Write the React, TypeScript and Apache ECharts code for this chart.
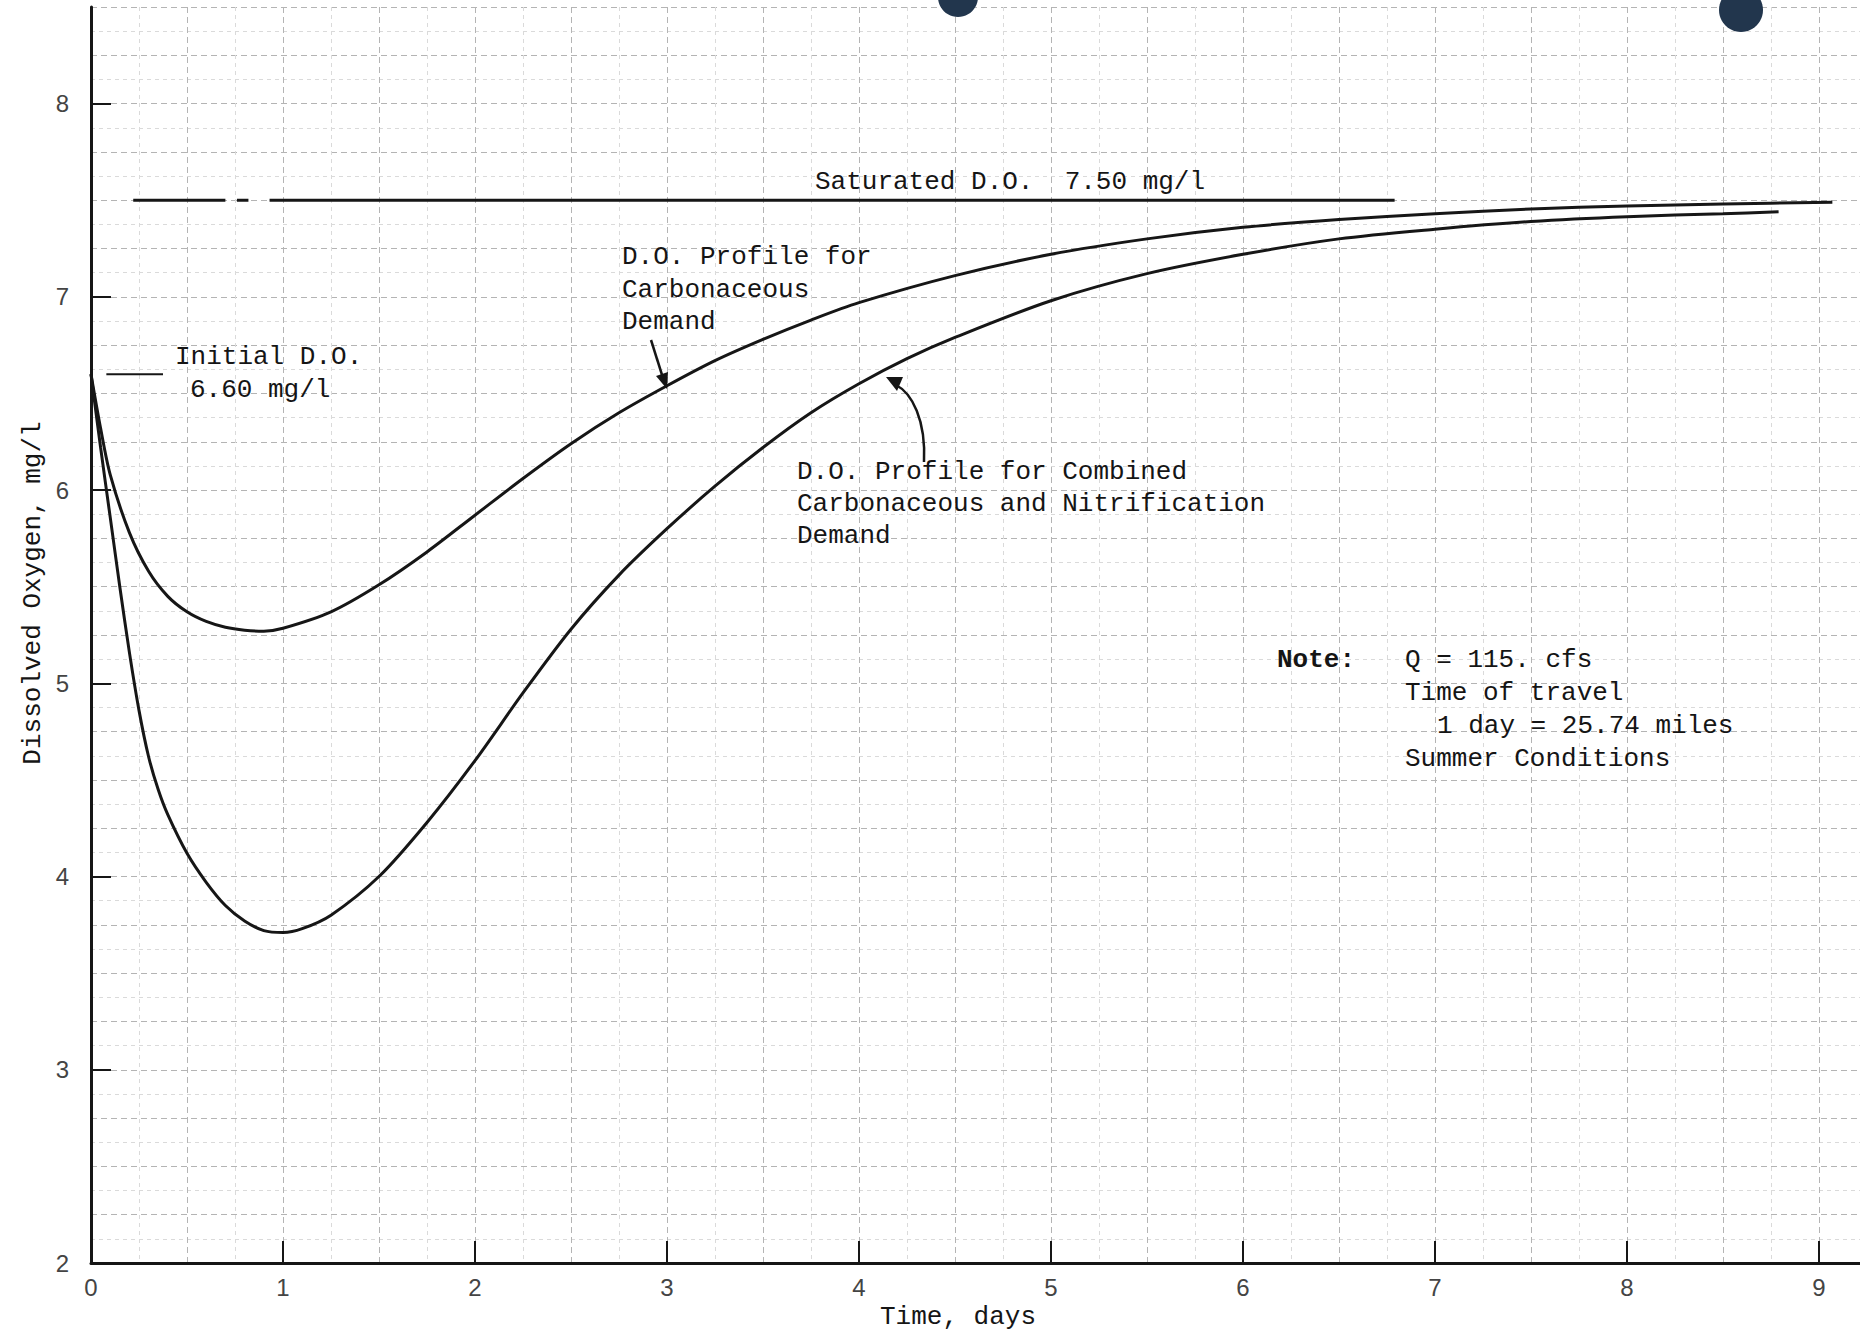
import React, { useEffect, useRef } from "react";
import * as echarts from "echarts";

// ---- data ----
const xTickValues = [0, 1, 2, 3, 4, 5, 6, 7, 8, 9];
const yTickValues = [2, 3, 4, 5, 6, 7, 8];

const carbDays = [0, 0.05, 0.1, 0.2, 0.3, 0.4, 0.5, 0.6, 0.7, 0.8, 0.9, 1.0, 1.25, 1.5, 1.75, 2.0, 2.25, 2.5, 2.75, 3.0, 3.25, 3.5, 3.75, 4.0, 4.5, 5.0, 5.5, 6.0, 6.5, 7.0, 7.5, 8.0, 8.5, 9.07];
const carbDO = [6.6, 6.32, 6.08, 5.78, 5.58, 5.45, 5.37, 5.32, 5.29, 5.275, 5.27, 5.285, 5.37, 5.51, 5.68, 5.87, 6.06, 6.24, 6.4, 6.54, 6.67, 6.78, 6.88, 6.97, 7.11, 7.22, 7.3, 7.36, 7.4, 7.43, 7.455, 7.47, 7.48, 7.49];

const combDays = [0, 0.05, 0.1, 0.15, 0.2, 0.25, 0.3, 0.35, 0.4, 0.5, 0.6, 0.7, 0.8, 0.9, 1.0, 1.1, 1.25, 1.5, 1.75, 2.0, 2.25, 2.5, 2.75, 3.0, 3.25, 3.5, 3.75, 4.0, 4.25, 4.5, 5.0, 5.5, 6.0, 6.5, 7.0, 7.5, 8.0, 8.5, 8.79];
const combDO = [6.6, 6.22, 5.86, 5.5, 5.16, 4.86, 4.62, 4.45, 4.32, 4.12, 3.97, 3.85, 3.77, 3.72, 3.71, 3.73, 3.8, 4.0, 4.28, 4.6, 4.95, 5.28, 5.56, 5.8, 6.02, 6.22, 6.4, 6.55, 6.68, 6.79, 6.98, 7.12, 7.22, 7.3, 7.35, 7.39, 7.415, 7.43, 7.44];

const saturatedDO = 7.5;
const saturatedSegments = [[0.22, 0.7], [0.76, 0.82], [0.93, 6.79]];
const initialDO = 6.6;
const initialLeader = [0.08, 0.375];

const X_MIN = 0;
const X_MAX = 9.214;
const Y_MIN = 2;
const Y_MAX = 8.5;

const MONO = "'Liberation Mono', 'DejaVu Sans Mono', monospace";
const SANS = "'Liberation Sans', Arial, sans-serif";
const INK = "#161616";

function App() {
  const ref = useRef<HTMLDivElement>(null);

  useEffect(() => {
    if (!ref.current) return;
    const chart = echarts.init(ref.current, undefined, { renderer: "svg" });

    const satData: any[] = [];
    saturatedSegments.forEach(([a, b]) => {
      satData.push([a, saturatedDO], [b, saturatedDO], [b, "-"]);
    });

    const intLabel = (v: number) => (Math.abs(v - Math.round(v)) < 1e-6 ? String(Math.round(v)) : "");

    const gridMajor = { color: "#b4b4b4", width: 1, type: [6, 4] as any };
    const gridMinor = { color: "#dadada", width: 1, type: [4, 4] as any };

    const txt = (x: number, y: number, text: string, weight = "normal", extra: any = {}) => ({
      type: "text",
      x,
      y,
      z: 50,
      style: {
        text,
        font: `${weight} 26px ${MONO}`,
        fill: "#151515",
        verticalAlign: "middle",
        ...extra,
      },
    });

    chart.setOption({
      animation: false,
      backgroundColor: "#ffffff",
      grid: { left: 91, right: 0, top: 7, bottom: 72, containLabel: false },
      xAxis: [
        {
          type: "value",
          min: X_MIN,
          max: X_MAX,
          interval: 1,
          position: "bottom",
          axisLine: { show: true, onZero: false, lineStyle: { color: INK, width: 3 } },
          axisTick: { show: true, inside: true, length: 22, lineStyle: { color: INK, width: 2 } },
          axisLabel: {
            margin: 12,
            fontSize: 24,
            color: "#444",
            fontFamily: SANS,
            formatter: intLabel,
            showMaxLabel: false,
          },
          splitLine: { show: false },
        },
        {
          type: "value",
          min: X_MIN,
          max: X_MAX,
          interval: 0.5,
          position: "top",
          axisLine: { show: false },
          axisTick: { show: false },
          axisLabel: { show: false },
          splitLine: { show: true, lineStyle: gridMajor },
          minorTick: { show: false, splitNumber: 2 },
          minorSplitLine: { show: true, lineStyle: gridMinor },
        },
      ],
      yAxis: [
        {
          type: "value",
          min: Y_MIN,
          max: Y_MAX,
          interval: 1,
          position: "left",
          axisLine: { show: true, onZero: false, lineStyle: { color: INK, width: 3 } },
          axisTick: { show: true, inside: true, length: 20, lineStyle: { color: INK, width: 2 } },
          axisLabel: {
            margin: 22,
            fontSize: 24,
            color: "#444",
            fontFamily: SANS,
            formatter: intLabel,
            showMaxLabel: false,
          },
          splitLine: { show: false },
        },
        {
          type: "value",
          min: Y_MIN,
          max: Y_MAX,
          interval: 0.25,
          position: "right",
          axisLine: { show: false },
          axisTick: { show: false },
          axisLabel: { show: false },
          splitLine: { show: true, lineStyle: gridMajor },
          minorTick: { show: false, splitNumber: 2 },
          minorSplitLine: { show: true, lineStyle: gridMinor },
        },
      ],
      series: [
        {
          name: "D.O. Profile for Carbonaceous Demand",
          type: "line",
          xAxisIndex: 0,
          yAxisIndex: 0,
          data: carbDays.map((d, i) => [d, carbDO[i]]),
          smooth: 0.3,
          symbol: "none",
          lineStyle: { color: INK, width: 3 },
          z: 10,
        },
        {
          name: "D.O. Profile for Combined Carbonaceous and Nitrification Demand",
          type: "line",
          xAxisIndex: 0,
          yAxisIndex: 0,
          data: combDays.map((d, i) => [d, combDO[i]]),
          smooth: 0.3,
          symbol: "none",
          lineStyle: { color: INK, width: 3 },
          z: 10,
        },
        {
          name: "Saturated D.O.",
          type: "line",
          xAxisIndex: 0,
          yAxisIndex: 0,
          data: satData,
          connectNulls: false,
          symbol: "none",
          lineStyle: { color: INK, width: 3 },
          z: 9,
        },
        {
          name: "Initial D.O.",
          type: "line",
          xAxisIndex: 0,
          yAxisIndex: 0,
          data: initialLeader.map((d) => [d, initialDO]),
          symbol: "none",
          lineStyle: { color: INK, width: 2 },
          z: 9,
        },
      ],
      graphic: [
        // axis names
        txt(958, 1317, "Time, days", "normal", { align: "center" }),
        {
          type: "text",
          x: 33,
          y: 593,
          rotation: Math.PI / 2,
          z: 50,
          style: {
            text: "Dissolved Oxygen, mg/l",
            font: `normal 26px ${MONO}`,
            fill: "#151515",
            align: "center",
            verticalAlign: "middle",
          },
        },
        // annotations
        txt(815, 182, "Saturated D.O.  7.50 mg/l"),
        txt(175, 357, "Initial D.O."),
        txt(190, 390, "6.60 mg/l"),
        txt(622, 257, "D.O. Profile for"),
        txt(622, 290, "Carbonaceous"),
        txt(622, 322, "Demand"),
        txt(797, 472, "D.O. Profile for Combined"),
        txt(797, 504, "Carbonaceous and Nitrification"),
        txt(797, 536, "Demand"),
        txt(1277, 660, "Note:", "bold"),
        txt(1405, 660, "Q = 115. cfs"),
        txt(1405, 693, "Time of travel"),
        txt(1437, 726, "1 day = 25.74 miles"),
        txt(1405, 759, "Summer Conditions"),
        // arrows
        {
          type: "line",
          z: 40,
          shape: { x1: 651, y1: 340, x2: 663, y2: 378 },
          style: { stroke: INK, lineWidth: 2.5 },
        },
        {
          type: "polygon",
          z: 40,
          shape: { points: [[667, 389], [668, 372], [656, 376]] },
          style: { fill: INK },
        },
        {
          type: "bezierCurve",
          z: 40,
          shape: { x1: 924, y1: 462, cpx1: 926, cpy1: 420, cpx2: 912, cpy2: 393, x2: 896, y2: 385 },
          style: { stroke: INK, lineWidth: 2.5, fill: "none" },
        },
        {
          type: "polygon",
          z: 40,
          shape: { points: [[886, 377], [903, 377], [897, 391]] },
          style: { fill: INK },
        },
        // hole punches in the scanned sheet
        {
          type: "circle",
          z: 60,
          shape: { cx: 958, cy: -3, r: 20 },
          style: { fill: "#22364d" },
        },
        {
          type: "circle",
          z: 60,
          shape: { cx: 1741, cy: 10, r: 22 },
          style: { fill: "#22364d" },
        },
      ],
    });

    return () => chart.dispose();
  }, []);

  return (
    <div
      ref={ref}
      style={{ position: "absolute", left: 0, top: 0, width: 1860, height: 1335 }}
    />
  );
}

export default App;
